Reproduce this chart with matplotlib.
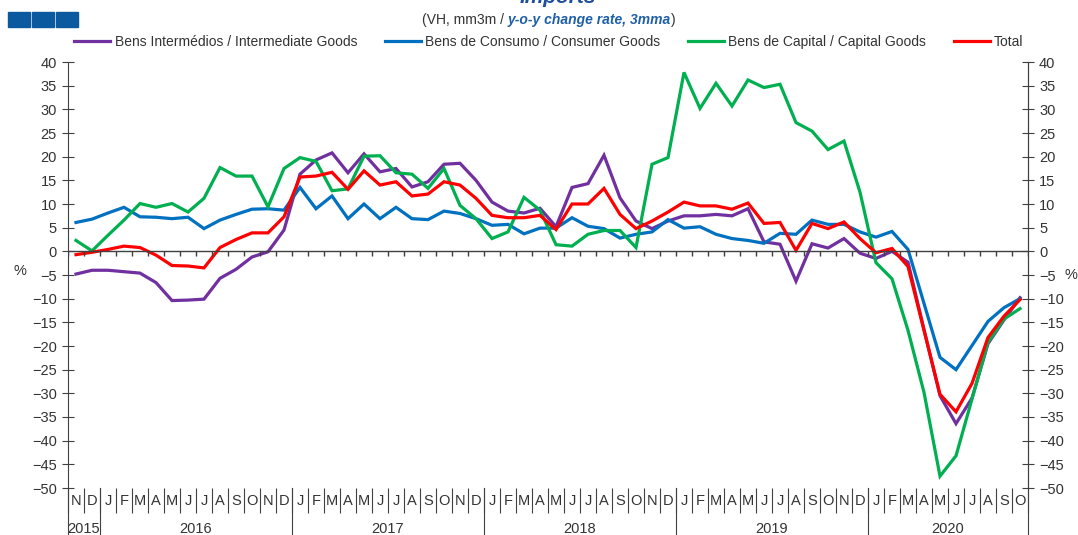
import numpy as np
import matplotlib.pyplot as plt
from matplotlib.patches import Rectangle
from matplotlib.transforms import blended_transform_factory

plt.rcParams['font.family'] = ['Liberation Sans', 'DejaVu Sans']

# Meses: Nov 2015 .. Out 2020
month_letters = ['N', 'D'] + ['J', 'F', 'M', 'A', 'M', 'J', 'J', 'A', 'S', 'O', 'N', 'D'] * 4 + \
    ['J', 'F', 'M', 'A', 'M', 'J', 'J', 'A', 'S', 'O']
years = ['2015', '2016', '2017', '2018', '2019', '2020']
months_per_year = [2, 12, 12, 12, 12, 10]

intermediate = [-4.8, -4.0, -4.0, -4.3, -4.6, -6.6, -10.4, -10.3, -10.1, -5.7, -3.8, -1.2, -0.1, 4.5,
                16.3, 19.3, 20.8, 16.6, 20.6, 16.8, 17.5, 13.6, 14.7, 18.4, 18.6, 15.0,
                10.4, 8.5, 8.1, 9.1, 5.2, 13.5, 14.3, 20.3, 11.3, 6.4, 4.8, 6.4,
                7.5, 7.5, 7.8, 7.5, 9.0, 2.0, 1.5, -6.3, 1.6, 0.7, 2.7, -0.4,
                -1.5, 0.0, -2.3, -16.5, -30.5, -36.4, -31.0, -19.5, -14.5, -9.8]
consumer = [6.1, 6.8, 8.1, 9.3, 7.3, 7.2, 6.9, 7.2, 4.8, 6.6, 7.8, 8.9, 9.0, 8.7,
            13.5, 9.0, 11.7, 6.9, 10.0, 6.9, 9.3, 6.9, 6.7, 8.5, 8.0, 6.9,
            5.5, 5.7, 3.7, 4.9, 4.9, 7.1, 5.3, 4.8, 2.8, 3.6, 4.1, 6.7,
            4.9, 5.2, 3.6, 2.7, 2.3, 1.7, 3.8, 3.6, 6.6, 5.7, 5.7, 4.1,
            3.0, 4.2, 0.4, -11.0, -22.4, -25.0, -19.9, -14.8, -11.9, -10.0]
capital = [2.3, 0.1, 3.4, 6.6, 10.1, 9.3, 10.1, 8.3, 11.2, 17.7, 15.9, 15.9, 9.4, 17.5,
           19.8, 19.0, 12.8, 13.2, 20.1, 20.2, 16.6, 16.3, 13.3, 17.5, 9.7, 6.9,
           2.7, 4.1, 11.4, 8.7, 1.4, 1.1, 3.6, 4.4, 4.4, 0.8, 18.4, 19.8,
           37.8, 30.2, 35.5, 30.7, 36.2, 34.6, 35.3, 27.2, 25.4, 21.5, 23.3, 12.5,
           -2.4, -5.8, -16.7, -29.8, -47.5, -43.2, -31.2, -19.2, -14.3, -12.1]
total = [-0.7, -0.2, 0.4, 1.1, 0.8, -0.8, -3.0, -3.1, -3.5, 0.8, 2.5, 3.9, 3.9, 7.3,
         15.7, 15.9, 16.7, 13.1, 17.0, 14.0, 14.7, 11.7, 12.1, 14.7, 14.0, 11.2,
         7.6, 7.1, 7.1, 7.6, 4.6, 10.0, 10.0, 13.3, 7.8, 4.8, 6.4, 8.3,
         10.4, 9.6, 9.6, 8.9, 10.2, 5.9, 6.1, 0.2, 5.9, 4.8, 6.2, 2.7,
         -0.3, 0.6, -3.2, -16.7, -30.2, -33.9, -27.9, -18.2, -13.7, -10.2]

labels = ['Bens Intermédios / Intermediate Goods', 'Bens de Consumo / Consumer Goods',
          'Bens de Capital / Capital Goods', 'Total']
colors = ['#7030A0', '#0070C0', '#00B050', '#FF0000']

W, H = 1078, 535
fig = plt.figure(figsize=(W / 100, H / 100), dpi=100)
ax = fig.add_axes([68 / W, (H - 488) / H, 960 / W, 426 / H])

x = np.arange(len(month_letters))
for serie, lab, col in zip([intermediate, consumer, capital, total], labels, colors):
    ax.plot(x, serie, color=col, lw=2.3, label=lab, solid_joinstyle='miter')

ax.set_xlim(-0.5, len(x) - 0.5)
ax.set_ylim(-50, 40)
ax.set_yticks(np.arange(-50, 41, 5))
ax.set_xticks([])
for s in ['top', 'bottom']:
    ax.spines[s].set_visible(False)
for s in ['left', 'right']:
    ax.spines[s].set_color('#404040')
ax.tick_params(axis='y', direction='inout', length=8, color='#404040',
               labelsize=10.5, labelcolor='#333333', pad=4)

ax2 = ax.twinx()
ax2.set_ylim(-50, 40)
ax2.set_yticks(np.arange(-50, 41, 5))
for s in ['top', 'bottom', 'left']:
    ax2.spines[s].set_visible(False)
ax2.spines['right'].set_color('#404040')
ax2.tick_params(axis='y', direction='inout', length=8, color='#404040',
                labelsize=10.5, labelcolor='#333333', pad=4)

# linha do zero com marcas mensais
ax.axhline(0, color='#404040', lw=1)
ax.vlines(np.arange(len(x) + 1) - 0.5, -0.9, 0, color='#404040', lw=1)

# eixo de categorias (meses / anos)
tr = blended_transform_factory(ax.transData, ax.transAxes)
bottom = -47 / 426
for i, m in enumerate(month_letters):
    ax.text(i, -13 / 426, m, transform=tr, ha='center', va='center', fontsize=10.5, color='#333333')
ax.vlines(np.arange(len(x) + 1) - 0.5, -25 / 426, 0, transform=tr, color='#404040', lw=0.8, clip_on=False)
start = 0
for yr, n in zip(years, months_per_year):
    ax.text(start + n / 2 - 0.5, -41 / 426, yr, transform=tr, ha='center', va='center',
            fontsize=10.5, color='#333333')
    ax.plot([start - 0.5, start - 0.5], [bottom, 0], transform=tr, color='#404040', lw=0.8, clip_on=False)
    start += n
ax.plot([start - 0.5, start - 0.5], [bottom, 0], transform=tr, color='#404040', lw=0.8, clip_on=False)

fig.text(20 / W, 1 - 271 / H, '%', fontsize=10.5, color='#333333', ha='center', va='center')
fig.text(1071 / W, 1 - 275 / H, '%', fontsize=10.5, color='#333333', ha='center', va='center')

# cabeçalho
for k in range(3):
    fig.add_artist(Rectangle(((8 + k * 24) / W, 1 - 27 / H), 22 / W, 15 / H,
                             transform=fig.transFigure, color='#0B5AA0'))
fig.text(558 / W, 1 - 3 / H, 'Imports', fontsize=15, fontweight='bold', style='italic',
         color='#1F4E9A', ha='center', va='baseline')
t1 = fig.text(422 / W, 1 - 20 / H, '(VH, mm3m / ', fontsize=10, color='#333333', va='center')
t2 = plt.annotate('y-o-y change rate, 3mma', xy=(1, 0), xycoords=t1, va='bottom', fontsize=10,
                  fontweight='bold', style='italic', color='#1F5FA8')
plt.annotate(')', xy=(1, 0), xycoords=t2, va='bottom', fontsize=10, color='#333333')

fig.legend(loc='center', bbox_to_anchor=(549 / W, 1 - 42 / H), ncol=4, frameon=False,
           fontsize=10, handlelength=2.6, handletextpad=0.3, columnspacing=2.0,
           labelcolor='#333333')

fig.savefig('out.png', dpi=100)
